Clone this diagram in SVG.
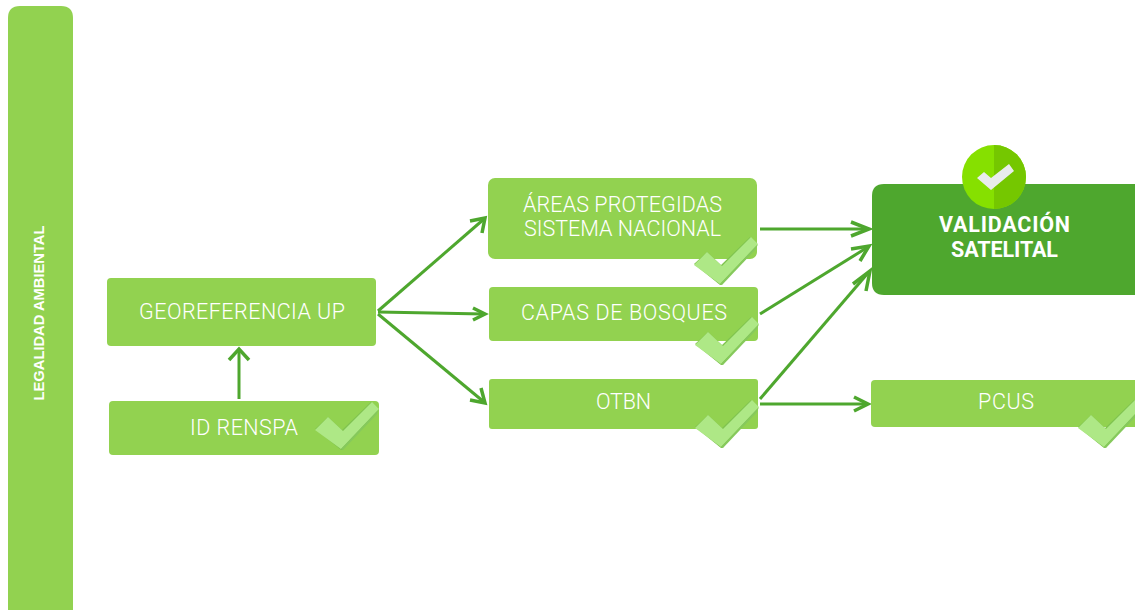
<svg xmlns="http://www.w3.org/2000/svg" width="1135" height="610" viewBox="0 0 1135 610">
<defs>
<style>
.box{fill:#92d250}
.t{font-family:Roboto,"Liberation Sans",sans-serif;font-size:21.5px;font-weight:300;fill:#fff;text-anchor:middle}
.b{font-family:Roboto,"Liberation Sans",Arial,sans-serif;font-size:21.5px;font-weight:700;fill:#fff;text-anchor:middle}
.c{fill:none;stroke:#4ea72e;stroke-width:3;stroke-linecap:butt;stroke-linejoin:miter}
.h{fill:none;stroke:#4ea72e;stroke-width:3.500;stroke-linecap:butt;stroke-linejoin:miter}
</style>
<g id="chk">
<path d="M-29 2L-16-10-2 3 27-25 34-19 31-12-1 21Q0 23-3 23Z" fill="#7fc34f"/>
<path d="M-29 3L-16-10-1 4 28-25 35-18-3 22Z" fill="#aee886"/>
<path d="M-3 22L35-18 33-13-1 23Z" fill="#86c95c"/>
</g>
</defs>
<rect width="1135" height="610" fill="#fff"/>
<g id="legalidad">
<path class="box" d="M8 610V18Q8 6 20 6H61Q73 6 73 18V610Z"/>
<text transform="translate(44 313) rotate(-90)" font-family="'Liberation Sans',Arial,sans-serif" font-size="14.500" font-weight="700" fill="#fff" text-anchor="middle" textLength="175" lengthAdjust="spacingAndGlyphs">LEGALIDAD AMBIENTAL</text>
</g>
<g id="connectors">
<path class="c" d="M239 399V350"/><path class="h" d="M229 360L239 349 249 360"/>
<path class="c" d="M378 311L484 219"/><path class="h" d="M470 221L485 218 482 233"/>
<path class="c" d="M378 312L484 314"/><path class="h" d="M473 308L485 314 473 320"/>
<path class="c" d="M378 314L484 402"/><path class="h" d="M481 388L485 403 470 400"/>
<path class="c" d="M760 229H869"/><path class="h" d="M851 222L869 229 851 236"/>
<path class="c" d="M760 314L868 247"/><path class="h" d="M851 249L869 246 860 261"/>
<path class="c" d="M760 399L868 273"/><path class="h" d="M853 284L870 271 866 291"/>
<path class="c" d="M760 404H867"/><path class="h" d="M854 397L868 404 854 411"/>
</g>
<g id="georeferencia">
<rect class="box" x="107" y="278" width="269" height="68" rx="4"/>
<text class="t" x="242" y="318.500" textLength="206">GEOREFERENCIA UP</text>
</g>
<g id="id-renspa">
<rect class="box" x="109" y="401" width="270" height="54" rx="4"/>
<text class="t" x="244" y="435" textLength="108">ID RENSPA</text>
<use href="#chk" x="344" y="427"/>
</g>
<g id="areas">
<rect class="box" x="488" y="178" width="269" height="81" rx="7"/>
<text class="t" x="622.500" y="211.500" textLength="199">ÁREAS PROTEGIDAS</text>
<text class="t" x="622.500" y="235.500" textLength="197">SISTEMA NACIONAL</text>
<use href="#chk" x="723" y="262"/>
</g>
<g id="capas">
<rect class="box" x="489" y="287" width="269" height="54" rx="4"/>
<text class="t" x="624" y="320" textLength="206">CAPAS DE BOSQUES</text>
<use href="#chk" x="724" y="342"/>
</g>
<g id="otbn">
<rect class="box" x="489" y="379" width="269" height="50" rx="3"/>
<text class="t" x="623.500" y="409" textLength="55">OTBN</text>
<use href="#chk" x="724" y="425"/>
</g>
<g id="pcus">
<path class="box" d="M1135 380H875Q871 380 871 384V423Q871 427 875 427H1135Z"/>
<text class="t" x="1006" y="409" textLength="56">PCUS</text>
<use href="#chk" x="1107" y="425"/>
</g>
<g id="validacion">
<path d="M1135 184H884Q872 184 872 196V283Q872 295 884 295H1135Z" fill="#4ea72e"/>
<circle cx="994" cy="177" r="32" fill="#86e000"/>
<path d="M994 145A32 32 0 0 1 994 209Z" fill="#75c700"/>
<path d="M977 178L984 172 991 178 1009 164 1014 171 991 190Z" fill="#e9ecec"/>
<text class="b" x="1004.500" y="232" textLength="131">VALIDACIÓN</text>
<text class="b" x="1004.500" y="257" textLength="107">SATELITAL</text>
</g>
</svg>
